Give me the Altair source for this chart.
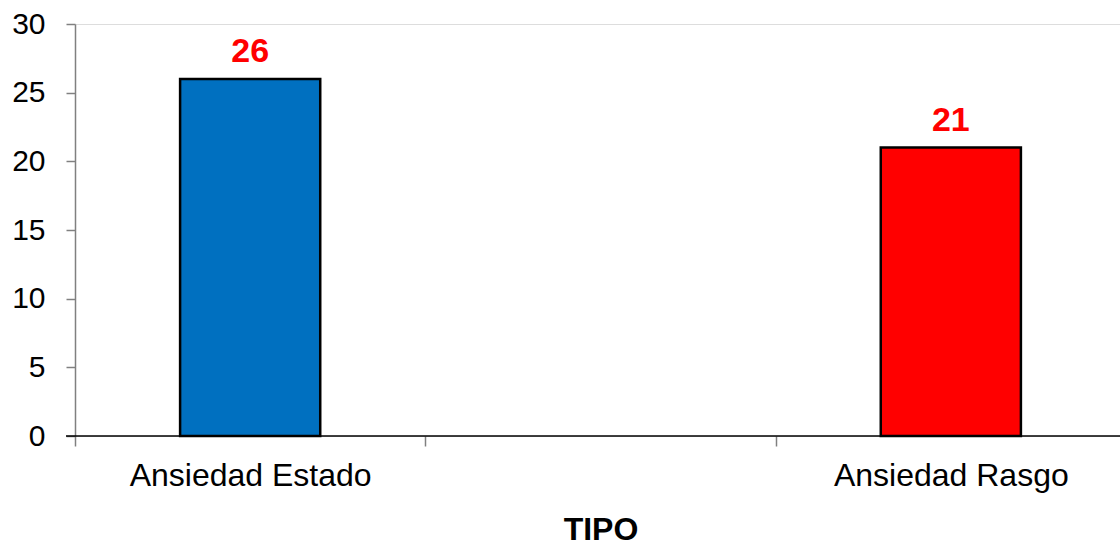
import altair as alt
import pandas as pd

# Data
categories = ["Ansiedad Estado", "Ansiedad Rasgo"]
axis_slots = ["Ansiedad Estado", " ", "Ansiedad Rasgo"]
values = [26, 21]
colors = ["#0070C0", "#FF0000"]
y_ticks = [0, 5, 10, 15, 20, 25, 30]

df = pd.DataFrame({"tipo": categories, "valor": values, "color": colors})
base_df = pd.DataFrame({"v": [0]})

FONT = "Liberation Sans"
W = 1045
H = 412
RANGE_W = 1051
HALF_STEP = RANGE_W / 3 / 2

x_enc = alt.X(
    "tipo:N",
    scale=alt.Scale(domain=axis_slots, range=[0, RANGE_W], paddingInner=0.6, paddingOuter=0.3),
    axis=alt.Axis(
        title="TIPO",
        labelAngle=0,
        domain=False,
        ticks=True,
        tickColor="#808080",
        tickSize=10,
        tickWidth=1.5,
        tickOffset=-HALF_STEP,
        labelOffset=HALF_STEP,
        labelFont=FONT,
        labelFontSize=32,
        labelColor="black",
        labelPadding=14,
        labelLimit=0,
        titleFont=FONT,
        titleFontSize=32,
        titleFontWeight="bold",
        titleColor="black",
        titlePadding=23,
        grid=False,
    ),
)

y_enc = alt.Y(
    "valor:Q",
    scale=alt.Scale(domain=[0, 30], nice=False),
    axis=alt.Axis(
        values=y_ticks,
        title=None,
        grid=False,
        domainColor="#808080",
        domainWidth=1.5,
        tickColor="#808080",
        tickSize=9,
        tickWidth=1.5,
        labelFont=FONT,
        labelFontSize=30,
        labelColor="black",
        labelPadding=21,
    ),
)

bars = alt.Chart(df).mark_bar(stroke="black", strokeWidth=2.5).encode(
    x=x_enc,
    y=y_enc,
    color=alt.Color("color:N", scale=None),
)

labels = alt.Chart(df).mark_text(
    font=FONT, fontSize=34, fontWeight="bold", color="#FF0000",
    baseline="alphabetic", dy=-17,
).encode(
    x=alt.X("tipo:N"),
    y=alt.Y("valor:Q"),
    text=alt.Text("valor:Q"),
)

baseline_rule = alt.Chart(base_df).mark_rule(color="black", strokeWidth=1.5).encode(
    x=alt.value(-9),
    x2=alt.value(RANGE_W),
    y=alt.Y("v:Q"),
)

chart = alt.layer(bars, baseline_rule, labels).properties(
    width=W,
    height=H,
    autosize=alt.AutoSizeParams(type="none"),
    padding={"left": 75, "top": 24, "right": 0, "bottom": 110},
).configure_view(stroke=None).configure(background="white")

chart.save("out.html", embed_options={"renderer": "svg", "actions": False})
